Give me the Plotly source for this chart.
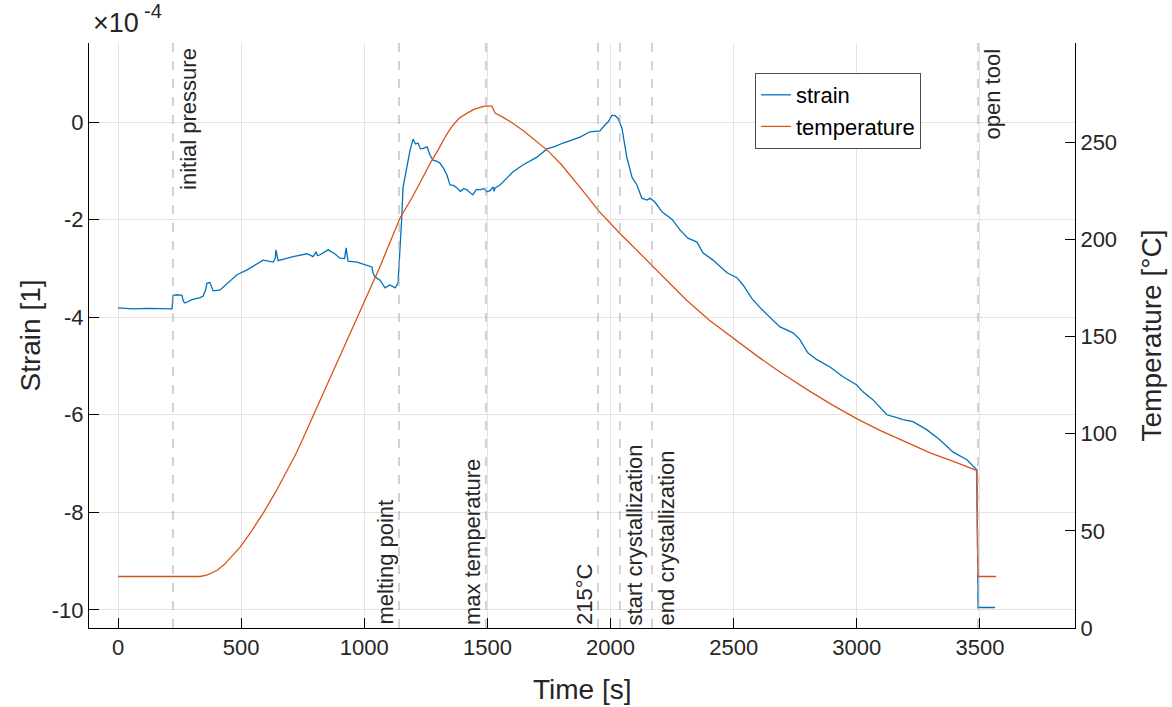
import plotly.graph_objects as go

# ---- measured strain (units of 1e-4) ----
strain_t = [0, 60, 120, 180, 219, 223, 240, 259, 266, 272, 300, 333, 345, 355, 361, 373, 386,
            414, 450, 483, 524, 560, 589, 630, 638, 641, 645, 650, 711, 767, 792, 804, 810,
            820, 853, 880, 901, 920, 926, 930, 934, 970, 1011, 1031, 1035, 1043, 1064, 1084,
            1104, 1125, 1137, 1141, 1153, 1157, 1173, 1186, 1198, 1208, 1218, 1228, 1239,
            1255, 1267, 1279, 1293, 1307, 1322, 1336, 1348, 1362, 1376, 1390, 1404, 1417,
            1430, 1441, 1455, 1470, 1484, 1498, 1512, 1523, 1527, 1531, 1551, 1575, 1604,
            1644, 1701, 1742, 1775, 1807, 1840, 1876, 1916, 1957, 1977, 1990, 2006, 2018,
            2030, 2046, 2066, 2087, 2107, 2127, 2148, 2160, 2180, 2209, 2249, 2282, 2314,
            2351, 2375, 2416, 2473, 2513, 2538, 2574, 2610, 2650, 2688, 2741, 2769, 2801,
            2838, 2891, 2944, 3000, 3025, 3065, 3094, 3122, 3163, 3187, 3228, 3268, 3285,
            3337, 3390, 3447, 3488, 3492, 3561]
strain_e4 = [-3.81, -3.83, -3.82, -3.83, -3.83, -3.55, -3.54, -3.55, -3.68, -3.71, -3.64, -3.60,
             -3.57, -3.45, -3.30, -3.29, -3.46, -3.44, -3.27, -3.13, -3.03, -2.92, -2.83, -2.87,
             -2.80, -2.62, -2.70, -2.84, -2.76, -2.70, -2.76, -2.66, -2.74, -2.72, -2.62, -2.70,
             -2.79, -2.80, -2.58, -2.75, -2.85, -2.87, -2.93, -2.97, -3.09, -3.17, -3.24, -3.40,
             -3.34, -3.40, -3.30, -2.97, -1.87, -1.35, -0.92, -0.57, -0.35, -0.45, -0.43, -0.55,
             -0.54, -0.51, -0.68, -0.78, -0.80, -0.84, -0.95, -1.09, -1.29, -1.30, -1.35, -1.42,
             -1.36, -1.39, -1.45, -1.49, -1.38, -1.39, -1.36, -1.43, -1.40, -1.33, -1.42, -1.35,
             -1.29, -1.16, -1.02, -0.88, -0.72, -0.55, -0.50, -0.43, -0.38, -0.31, -0.20, -0.18,
             -0.06, 0.00, 0.14, 0.13, 0.08, -0.12, -0.72, -1.13, -1.29, -1.56, -1.60, -1.56,
             -1.64, -1.84, -1.99, -2.21, -2.38, -2.46, -2.68, -2.83, -3.09, -3.19, -3.34, -3.62,
             -3.82, -4.02, -4.20, -4.32, -4.46, -4.73, -4.87, -5.02, -5.22, -5.39, -5.53, -5.69,
             -5.84, -6.00, -6.06, -6.10, -6.14, -6.27, -6.31, -6.51, -6.76, -6.92, -7.13, -9.95,
             -9.95]

# ---- measured tool temperature (°C) ----
temp_t = [0, 280, 333, 360, 380, 401, 430, 460, 495, 540, 589, 640, 686, 720, 751, 786, 820,
          900, 1000, 1064, 1145, 1192, 1230, 1267, 1300, 1330, 1355, 1385, 1416, 1445, 1470,
          1490, 1518, 1531, 1560, 1600, 1650, 1700, 1746, 1800, 1850, 1900, 1949, 2000, 2038,
          2070, 2106, 2173, 2240, 2309, 2400, 2500, 2600, 2688, 2800, 2900, 2999, 3094, 3200,
          3300, 3400, 3486, 3492, 3566]
temp_c = [26.5, 26.5, 26.5, 27.2, 28.2, 29.6, 32.5, 36.5, 41.5, 49.5, 59.0, 70.0, 80.5, 89.0,
          97.5, 107.3, 117.0, 139.5, 167.5, 186.0, 211.0, 221.0, 230.0, 239.0, 246.0, 253.0,
          258.0, 262.3, 264.8, 266.8, 267.9, 268.5, 268.5, 265.0, 263.0, 260.0, 255.5, 250.5,
          245.5, 238.5, 231.0, 223.0, 215.0, 208.0, 203.0, 199.0, 194.4, 185.8, 177.0, 168.6,
          158.5, 148.8, 139.5, 131.7, 122.5, 114.8, 107.7, 101.7, 95.5, 90.0, 85.3, 81.1, 26.5,
          26.5]

# ---- process events ----
event_t = [223, 1141, 1494, 1949, 2038, 2168, 3492]
event_labels = ["initial pressure", "melting point", "max temperature", "215°C",
                "start crystallization", "end crystallization", "open tool"]
event_side = ["right", "left", "left", "left", "right", "right", "right"]
event_vpos = ["top", "bottom", "bottom", "bottom", "bottom", "bottom", "top"]

x_ticks = [0, 500, 1000, 1500, 2000, 2500, 3000, 3500]
strain_ticks = [-10, -8, -6, -4, -2, 0]
temp_ticks = [0, 50, 100, 150, 200, 250]

BLUE = "#0072BD"
ORANGE = "#D95319"
FONT = "Liberation Sans, Arial, sans-serif"
TXT = "#262626"

W, H = 1172, 707
ml, mr, mt, mb = 89, 97, 43, 79
pw, ph = W - ml - mr, H - mt - mb


def px_to_paper(px, py):
    return (px - ml) / pw, 1 - (py - mt) / ph


fig = go.Figure()
fig.add_trace(go.Scatter(x=strain_t, y=[v * 1e-4 for v in strain_e4], mode="lines",
                         name="strain", line=dict(color=BLUE, width=1.3), yaxis="y"))
fig.add_trace(go.Scatter(x=temp_t, y=temp_c, mode="lines", name="temperature",
                         line=dict(color=ORANGE, width=1.3), yaxis="y2"))

shapes = []
annotations = []
for t, lab, side, vpos in zip(event_t, event_labels, event_side, event_vpos):
    shapes.append(dict(type="line", xref="x", yref="paper", x0=t, x1=t, y0=0, y1=1,
                       line=dict(color="#a6a6a6", width=1, dash="dash"), layer="above"))
    annotations.append(dict(
        x=t, xref="x", y=1 if vpos == "top" else 0, yref="paper",
        text=lab, textangle=-90, showarrow=False,
        xanchor="center", yanchor="top" if vpos == "top" else "bottom",
        xshift=15 if side == "right" else -14,
        yshift=-3 if vpos == "top" else 1,
        font=dict(family=FONT, size=22, color=TXT)))

# exponent label of the strain axis
xp, yp = px_to_paper(91, 40)
annotations.append(dict(text="×10", x=xp, y=yp, xref="paper", yref="paper",
                        xanchor="left", yanchor="bottom", showarrow=False,
                        font=dict(family=FONT, size=27, color=TXT)))
xp, yp = px_to_paper(142, 24)
annotations.append(dict(text="-4", x=xp, y=yp, xref="paper", yref="paper",
                        xanchor="left", yanchor="bottom", showarrow=False,
                        font=dict(family=FONT, size=20, color=TXT)))

# axis titles
_, yp = px_to_paper(0, 689)
annotations.append(dict(text="Time [s]", x=0.5, y=yp, xref="paper", yref="paper",
                        showarrow=False, xanchor="center", yanchor="middle",
                        font=dict(family=FONT, size=28, color=TXT)))
xp, _ = px_to_paper(30, 0)
annotations.append(dict(text="Strain [1]", x=xp, y=0.5, xref="paper", yref="paper",
                        textangle=-90, showarrow=False, xanchor="center", yanchor="middle",
                        font=dict(family=FONT, size=28, color=TXT)))
xp, _ = px_to_paper(1151, 0)
annotations.append(dict(text="Temperature [°C]", x=xp, y=0.5, xref="paper", yref="paper",
                        textangle=-90, showarrow=False, xanchor="center", yanchor="middle",
                        font=dict(family=FONT, size=28, color=TXT)))

axis_common = dict(showline=True, linecolor="black", linewidth=1, ticks="inside",
                   ticklen=10, tickcolor="black", zeroline=False,
                   tickfont=dict(family=FONT, size=22, color=TXT))

lx, ly = px_to_paper(755, 73)
fig.update_layout(
    width=W, height=H,
    margin=dict(l=ml, r=mr, t=mt, b=mb),
    paper_bgcolor="white", plot_bgcolor="white",
    xaxis=dict(range=[-118, 3886], tickvals=x_ticks, showgrid=True, gridcolor="#e3e3e3",
               mirror=False, **axis_common),
    yaxis=dict(range=[-10.37e-4, 1.62e-4], tickvals=[v * 1e-4 for v in strain_ticks],
               ticktext=[str(v) for v in strain_ticks], showgrid=True, gridcolor="#e3e3e3",
               **axis_common),
    yaxis2=dict(range=[0, 301], tickvals=temp_ticks, overlaying="y", side="right",
                showgrid=False, **axis_common),
    legend=dict(x=lx, y=ly, xanchor="left", yanchor="top", bgcolor="white",
                bordercolor="#4d4d4d", borderwidth=1,
                font=dict(family=FONT, size=22, color="black"), itemwidth=30),
    showlegend=True,
    shapes=shapes,
    annotations=annotations,
)

fig.write_html("out.html")
